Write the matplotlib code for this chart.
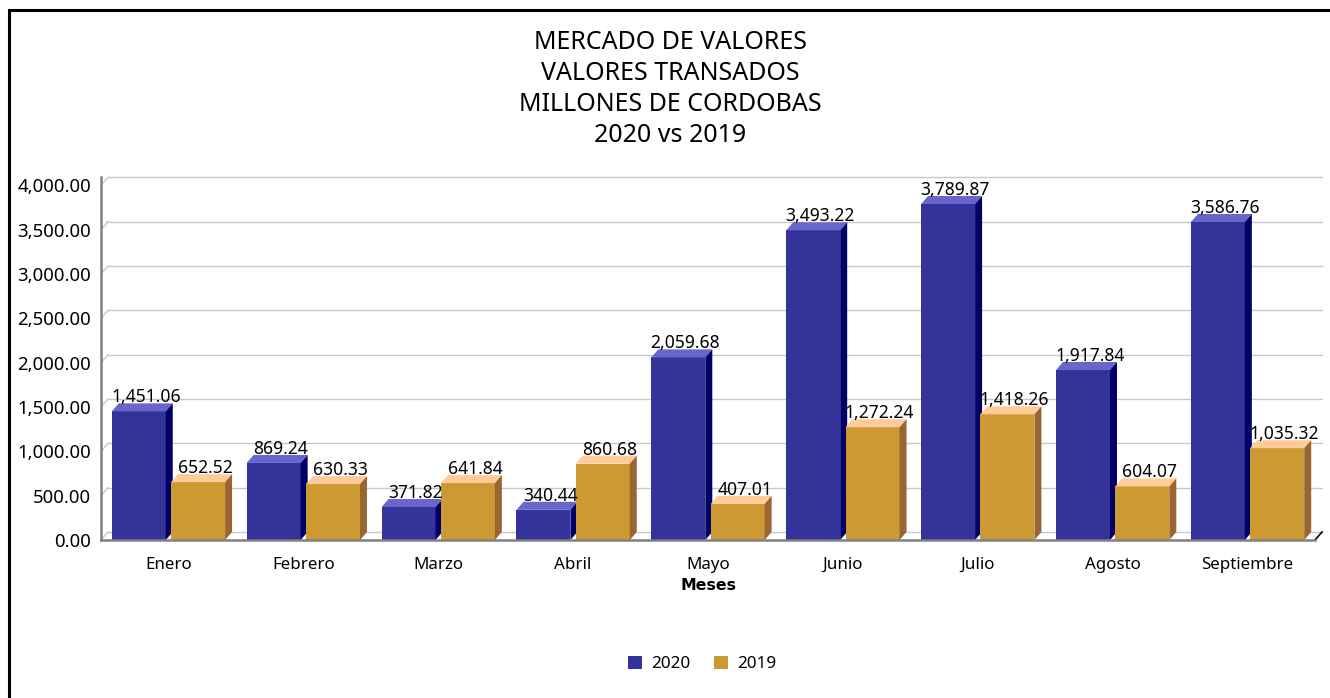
import matplotlib.pyplot as plt
from matplotlib.patches import Rectangle, Patch

months = ['Enero', 'Febrero', 'Marzo', 'Abril', 'Mayo', 'Junio', 'Julio', 'Agosto', 'Septiembre']
v2020 = [1451.06, 869.24, 371.82, 340.44, 2059.68, 3493.22, 3789.87, 1917.84, 3586.76]
v2019 = [652.52, 630.33, 641.84, 860.68, 407.01, 1272.24, 1418.26, 604.07, 1035.32]
yticks = [0, 500, 1000, 1500, 2000, 2500, 3000, 3500, 4000]
title_lines = ['MERCADO DE VALORES', 'VALORES TRANSADOS', 'MILLONES DE CORDOBAS', '2020 vs 2019']

# colours: front, top, side
c2020 = ('#333399', '#6666CC', '#000066')
c2019 = ('#CC9933', '#FFCC99', '#996633')

plt.rcParams['font.family'] = ['Noto Sans', 'DejaVu Sans']

W, H = 1330, 698
fig = plt.figure(figsize=(W / 100, H / 100), dpi=100)

# axes box in pixels
px_per_val = 0.08866
ax = fig.add_axes([101 / W, 158 / H, 1214 / W, 363 / H])
ax.set_xlim(-0.5, 8.5)
ax.set_ylim(0, 363 / px_per_val)
for s in ax.spines.values():
    s.set_visible(False)

dx = 7 / 135.0          # depth in category units
dy = 8 / px_per_val     # depth in value units

# back wall gridlines + left diagonals
for v in yticks:
    ax.plot([-0.5, -0.5 + dx], [v, v + dy], color='#C8C8C8', lw=1, clip_on=False, zorder=1)
    ax.plot([-0.5 + dx, 8.5 + dx], [v + dy, v + dy], color='#C8C8C8', lw=1, clip_on=False, zorder=1)
# floor right edge
ax.plot([8.5, 8.5 + dx], [0, dy], color='#000000', lw=1.2, clip_on=False, zorder=2)
# front axis lines
ax.plot([-0.5, 8.5], [0, 0], color='#808080', lw=1.8, clip_on=False, zorder=5)
ax.plot([-0.5, -0.5], [0, 4000 + dy], color='#808080', lw=1.8, clip_on=False, zorder=5)


def bar3d(x0, w, h, cols):
    front, top, side = cols
    x1 = x0 + w
    ax.fill([x0, x1, x1, x0], [0, 0, h, h], color=front, lw=0, zorder=3, clip_on=False)
    ax.fill([x0, x1, x1 + dx, x0 + dx], [h, h, h + dy, h + dy], color=top, lw=0, zorder=3, clip_on=False)
    ax.fill([x1, x1 + dx, x1 + dx, x1], [0, dy, h + dy, h], color=side, lw=0, zorder=3, clip_on=False)
    ax.text(x0 + w / 2 + dx, h + dy + 12, f'{h:,.2f}', ha='center', va='baseline',
            fontsize=12.6, color='black', zorder=6)


bw = 0.4
for i in range(len(months)):
    bar3d(i - 0.42, bw, v2020[i], c2020)
for i in range(len(months)):
    bar3d(i + 0.02, bw, v2019[i], c2019)

ax.set_yticks(yticks)
ax.set_yticklabels([f'{v:,.2f}' for v in yticks], fontsize=13.4, color='black')
ax.set_xticks(range(len(months)))
ax.set_xticklabels(months, fontsize=12.2, color='black')
ax.tick_params(axis='both', length=0)
ax.tick_params(axis='y', pad=7)
ax.tick_params(axis='x', pad=12)
ax.set_xlabel('Meses', fontsize=11.3, fontweight='bold', family=['DejaVu Sans'], va='center')
ax.xaxis.set_label_coords(0.5, -(585 - 540) / 363)

fig.text(670 / W, 1 - 89 / H, '\n'.join(title_lines), ha='center', va='center',
         fontsize=18, linespacing=1.3, color='black')

handles = [Patch(facecolor=c2020[0], label='2020'), Patch(facecolor=c2019[0], label='2019')]
fig.legend(handles=handles, loc='center', bbox_to_anchor=(702 / W, 1 - 664 / H), ncol=2,
           frameon=False, fontsize=12.3, handlelength=0.82, handleheight=0.82,
           handletextpad=0.55, columnspacing=1.35)

# outer frame
fig.add_artist(Rectangle((9 / W, -0.1), 1.2, 1.1 - 10 / H, transform=fig.transFigure,
                         fill=False, edgecolor='black', lw=2.2))

fig.savefig('out.png', dpi=100)
